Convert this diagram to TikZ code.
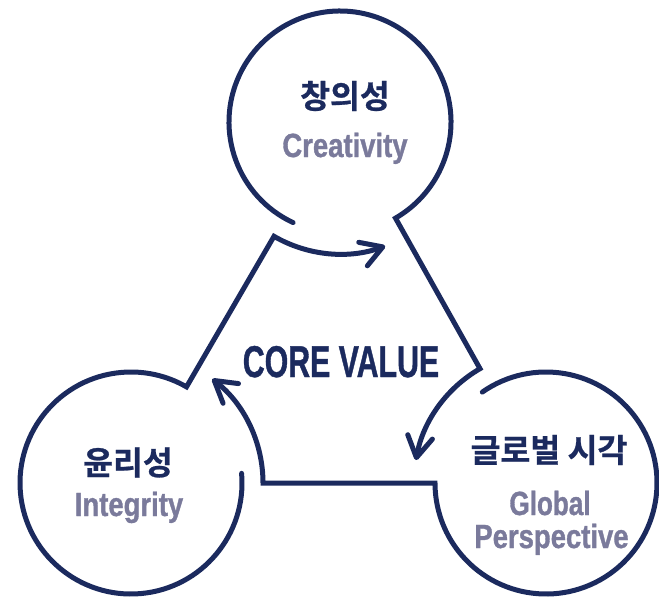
\documentclass[tikz,border=0pt]{standalone}
\usepackage{fontspec}
\usepackage{graphicx}
\newfontfamily\krfont{Noto Sans CJK KR Bold}[FakeBold=0.8]
\newfontfamily\enfont{Liberation Sans Bold}[FakeStretch=0.82,FakeBold=1]
\usetikzlibrary{arrows.meta,calc}
\definecolor{navy}{RGB}{27,42,94}
\definecolor{lav}{RGB}{122,122,155}
\begin{document}
\begin{tikzpicture}[x=1pt,y=1pt,
  ring/.style={draw=navy,line width=5pt,line cap=round,line join=miter},
  flow/.style={ring,-{Straight Barb[length=21pt,width=25pt,round]}},
  krlabel/.style={text=navy,font=\krfont\fontsize{32.5}{36}\selectfont,inner sep=0pt},
  enlabel/.style={text=lav,font=\enfont\fontsize{33.5}{36}\selectfont,inner sep=0pt,anchor=base},
  corelabel/.style={text=navy,font=\enfont\fontsize{44.5}{48}\selectfont,inner sep=0pt,anchor=base}]
\useasboundingbox (0,0) rectangle (659,-597);
\coordinate (T) at (340,-122);
\coordinate (L) at (131,-483);
\coordinate (R) at (546,-483);
% circles with their connectors and arrows
\draw[flow] ($(T)+(245:111)$) arc[start angle=245,end angle=-60,radius=111]
   -- ($(R)+(120:132)$) arc[start angle=120,end angle=170,radius=132];
\draw[flow] ($(R)+(125:111)$) arc[start angle=125,end angle=-180,radius=111]
   -- ($(L)+(0:132)$) arc[start angle=0,end angle=52,radius=132];
\draw[flow] ($(L)+(5:111)$) arc[start angle=5,end angle=-300,radius=111]
   -- ($(T)+(240:132)$) arc[start angle=240,end angle=290,radius=132];
% labels
\node[krlabel] (t1) at (345,-96) {창의성};
\node[enlabel] (t2) at (345,-157) {Creativity};
\node[krlabel] (l1) at (128,-462.5) {윤리성};
\node[enlabel] (l2) at (129,-516) {Integrity};
\node[krlabel] (r1) at (549,-450) {글로벌 시각};
\node[enlabel] (r2) at (550,-515) {\scalebox{0.95}[1]{Global}};
\node[enlabel] (r3) at (551.5,-548) {Perspective};
\node[corelabel] (c) at (341,-377) {\scalebox{0.83}[1]{CORE VALUE}};
\end{tikzpicture}
\end{document}
